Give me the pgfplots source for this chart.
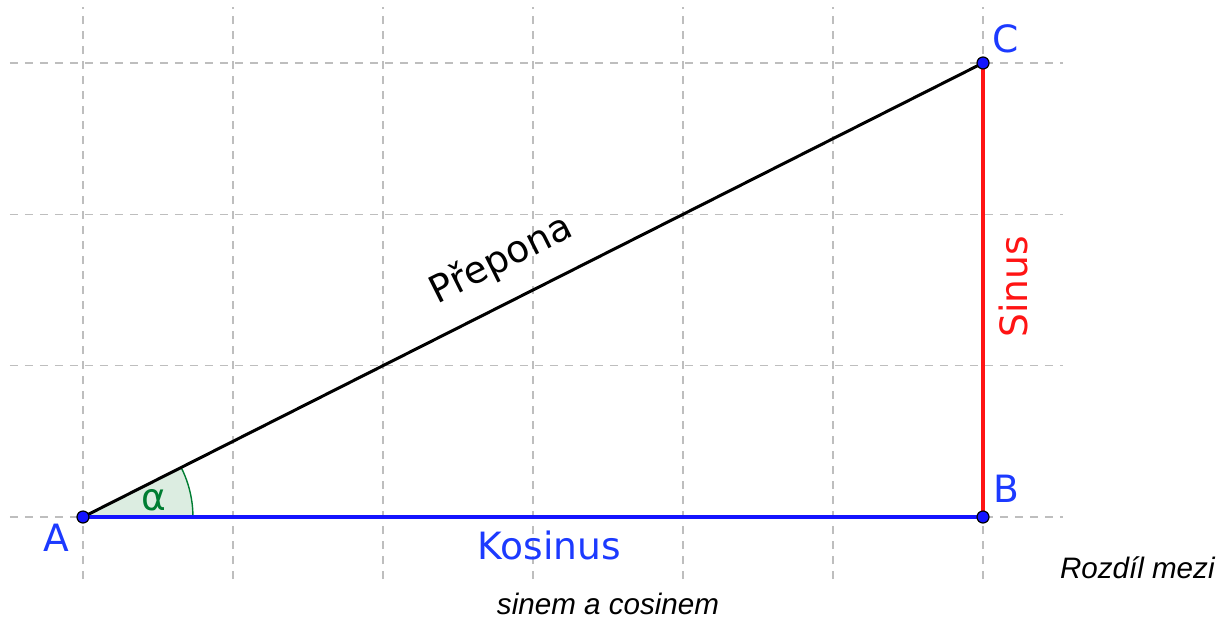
\documentclass[border=0pt]{standalone}
\usepackage{pgfplots}
\pgfplotsset{compat=1.18}
\usepackage{fontspec}
\setmainfont{DejaVu Sans}
\newfontfamily\capfont{Liberation Sans}
\definecolor{ggblue}{RGB}{20,20,255}
\definecolor{lblblue}{RGB}{28,58,255}
\definecolor{ggred}{RGB}{255,20,20}
\definecolor{gggreen}{RGB}{0,125,50}
\definecolor{angfill}{RGB}{220,237,225}
\definecolor{gridgray}{RGB}{190,190,190}
\newcommand{\lblfont}{\fontsize{18.8}{22}\selectfont}
\begin{document}
\begin{tikzpicture}
\useasboundingbox (-41.5pt,-50pt) rectangle (567.5pt,258.5pt);
\begin{axis}[
  anchor=origin, at={(0,0)},
  x=75pt, y=75.67pt,
  xmin=-0.487, xmax=6.53, ymin=-0.41, ymax=3.37,
  axis line style={draw=none},
  xtick={0,...,6}, ytick={0,...,3},
  xticklabels={}, yticklabels={},
  major tick length=0pt,
  grid=major,
  major grid style={draw=gridgray, line width=0.7pt, dash pattern=on 4pt off 3.5pt},
  clip=false,
]
\fill[angfill] (axis cs:0,0) -- (axis cs:0.733,0) arc[start angle=0,end angle=26.565,radius=55pt] -- cycle;
\draw[gggreen, line width=0.7pt] (axis cs:0.733,0) arc[start angle=0,end angle=26.565,radius=55pt];
\addplot[black, line width=1.5pt] coordinates {(0,0) (6,3)};
\addplot[ggblue, line width=1.6pt] coordinates {(0,0) (6,0)};
\addplot[ggred, line width=1.6pt] coordinates {(6,0) (6,3)};
\addplot[only marks, mark=*, mark size=3pt, mark options={fill=ggblue, draw=black, line width=0.6pt}] coordinates {(0,0) (6,0) (6,3)};
\node[anchor=base, text=lblblue, font=\lblfont, inner sep=0pt] at (axis cs:-0.18,-0.23) {A};
\node[anchor=base, text=lblblue, font=\lblfont, inner sep=0pt] at (axis cs:6.153,0.093) {B};
\node[anchor=base, text=lblblue, font=\lblfont, inner sep=0pt] at (axis cs:6.153,3.067) {C};
\node[anchor=base, text=gggreen, font=\lblfont, inner sep=0pt] at (axis cs:0.473,0.046) {α};
\node[anchor=base, text=lblblue, font=\lblfont, inner sep=0pt] at (axis cs:3.11,-0.284) {Kosinus};
\node[anchor=center, text=black, font=\lblfont, inner sep=0pt, rotate=26.565] at (axis cs:2.79,1.70) {Přepona};
\node[anchor=center, text=ggred, font=\lblfont, inner sep=0pt, rotate=90] at (axis cs:6.2,1.52) {Sinus};
\end{axis}
\node[anchor=base east, inner sep=0pt, font=\capfont\itshape\fontsize{14.8}{17}\selectfont] at (566pt,-30.5pt) {Rozdíl mezi};
\node[anchor=base, inner sep=0pt, font=\capfont\itshape\fontsize{14.8}{17}\selectfont] at (262.5pt,-48.8pt) {sinem a cosinem};
\end{tikzpicture}
\end{document}
